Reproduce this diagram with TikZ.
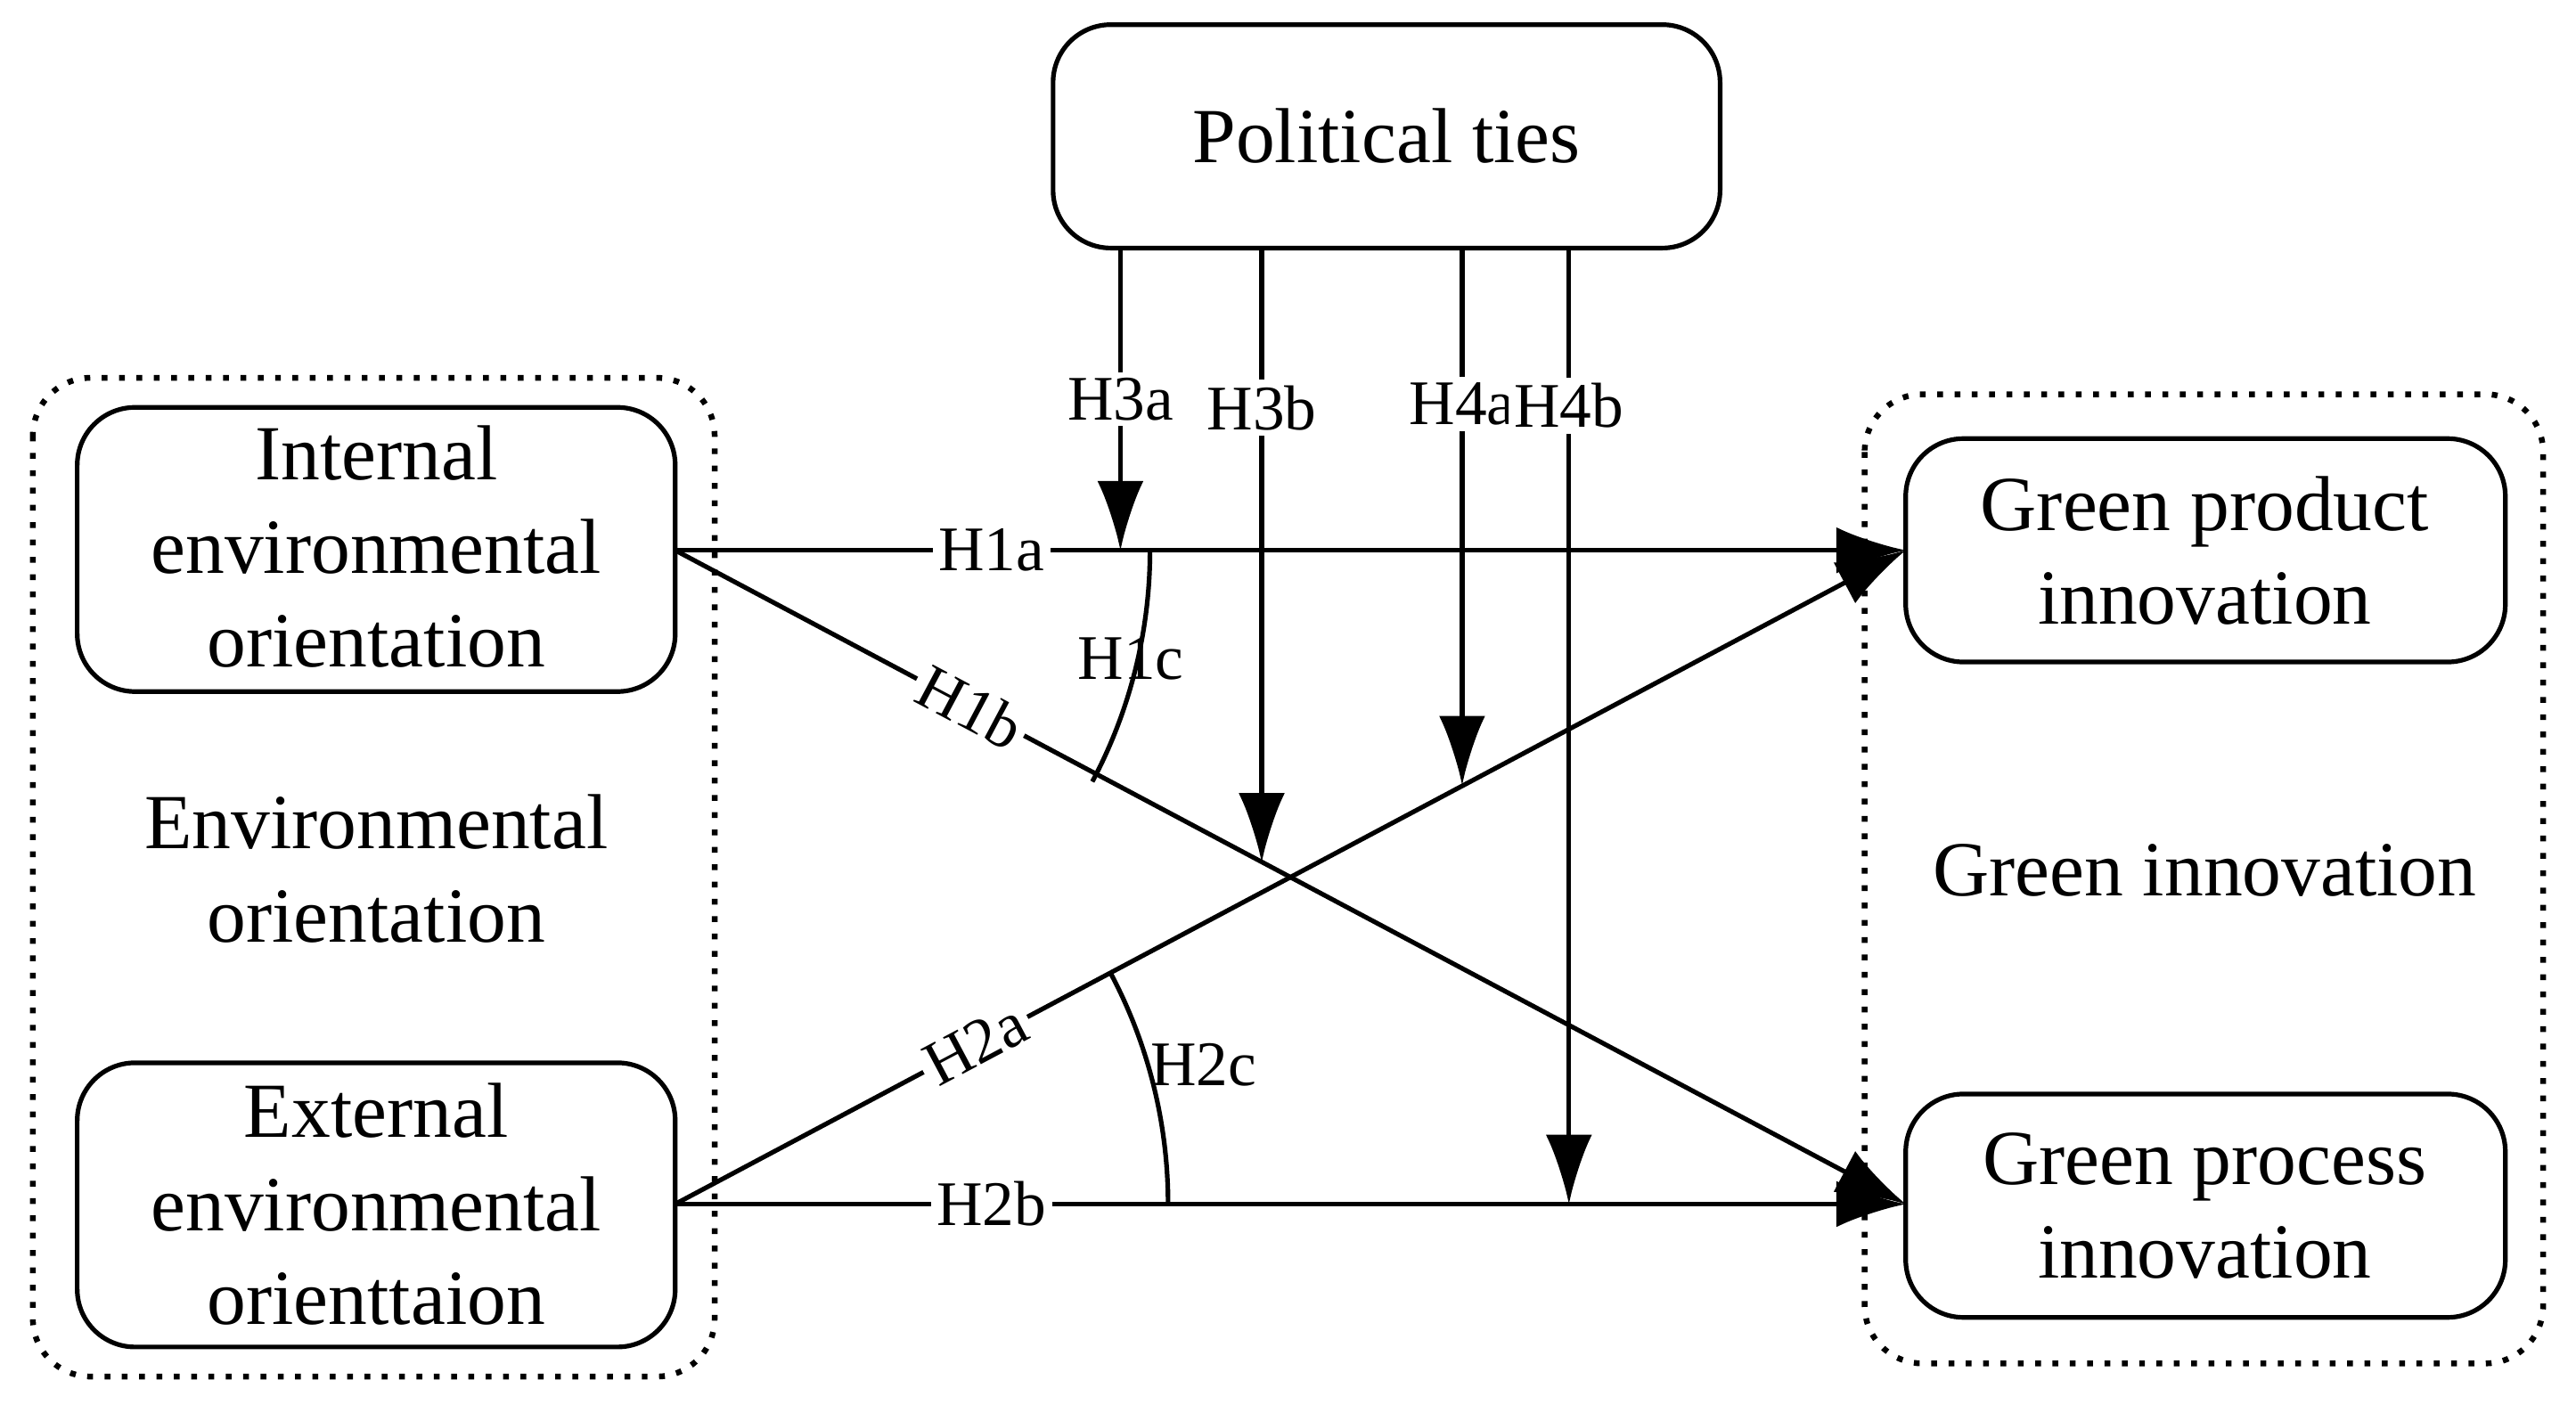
\documentclass[tikz,border=0pt]{standalone}
\usepackage{fontspec}
\setmainfont{Liberation Serif}
\usetikzlibrary{arrows.meta}
\begin{document}
\begin{tikzpicture}[x=0.01cm,y=-0.01cm,
  box/.style={draw,rounded corners=10pt,line width=0.8pt},
  grp/.style={draw,dotted,rounded corners=10pt,line width=1pt},
  big/.style={font=\fontsize{13.5}{16.2}\selectfont,align=center},
  lab/.style={font=\fontsize{11}{13}\selectfont,fill=white,inner sep=1pt},
  arr/.style={-{Latex[length=12pt,width=8pt]},line width=0.8pt},
  ln/.style={line width=0.8pt}]
\useasboundingbox (0,0) rectangle (1568,860);
\draw[grp] (20,230) rectangle (435,838);
\draw[grp] (1135,240) rectangle (1548,830);
\draw[box] (641,15) rectangle (1047,151);
\node[big] (pt) at (844,83) {Political ties};
\draw[box] (47,248) rectangle (411,421);
\node[big] (ieo) at (229,333) {Internal\\environmental\\orientation};
\draw[box] (47,647) rectangle (411,820);
\node[big] (eeo) at (229,733) {External\\environmental\\orienttaion};
\node[big] (eo) at (229,529) {Environmental\\orientation};
\draw[box] (1160,267) rectangle (1525,403);
\node[big] (gpd) at (1342,335) {Green product\\innovation};
\draw[box] (1160,666) rectangle (1525,802);
\node[big] (gpc) at (1342,734) {Green process\\innovation};
\node[big] (gi) at (1342,530) {Green innovation};
\coordinate (iR) at (411,335);
\coordinate (eR) at (411,733);
\coordinate (pdL) at (1160,335);
\coordinate (pcL) at (1160,733);
\draw[arr] (iR) -- node[lab,pos=0.257]{H1a} (pdL);
\draw[arr] (iR) -- node[lab,pos=0.24,sloped]{H1b} (pcL);
\draw[arr] (eR) -- node[lab,pos=0.244,sloped]{H2a} (pdL);
\draw[arr] (eR) -- node[lab,pos=0.257]{H2b} (pcL);
\draw[ln] (700,335) arc[start angle=0,end angle=28,radius=300];
\draw[ln] (711,733) arc[start angle=0,end angle=-28,radius=300];
\node[font=\fontsize{11}{13}\selectfont,anchor=east] at (733,401) {H1c};
\node[font=\fontsize{11}{13}\selectfont,anchor=west] at (688,648) {H2c};
\coordinate (t1) at (682,151); \coordinate (b1) at (682,335);
\coordinate (t2) at (768,151); \coordinate (b2) at (768,525);
\coordinate (t3) at (890,151); \coordinate (b3) at (890,478);
\coordinate (t4) at (955,151); \coordinate (b4) at (955,733);
\draw[arr] (t1) -- node[lab,pos=0.5]{H3a} (b1);
\draw[arr] (t2) -- node[lab,pos=0.26]{H3b} (b2);
\draw[arr] (t3) -- node[lab,pos=0.29]{H4a} (b3);
\draw[arr] (t4) -- node[lab,pos=0.165]{H4b} (b4);
\end{tikzpicture}
\end{document}
